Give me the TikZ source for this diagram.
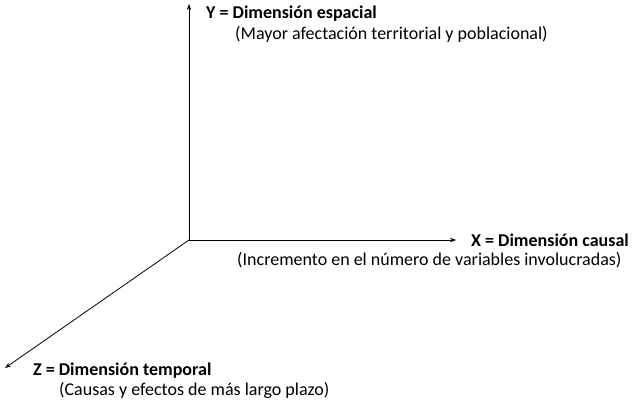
\documentclass[tikz,border=0pt]{standalone}
\usepackage{fontspec}
\setmainfont{Carlito}
\usepackage{tikz}
\usetikzlibrary{arrows.meta,positioning}

\tikzset{
	axis/.style={-{Stealth[length=6pt,width=4.5pt]}, line width=.8pt},
	title/.style={anchor=west, inner sep=0pt, font=\fontsize{18}{20}\selectfont\bfseries},
	note/.style={anchor=west, inner sep=0pt, font=\fontsize{18}{20}\selectfont}
}

\begin{document}
\begin{tikzpicture}[x=1pt,y=-1pt]
				\useasboundingbox (0,0) rectangle (633,406);
				% axes
				\coordinate (o) at (189,240);
				\coordinate (ytip) at (189,4);
				\coordinate (xtip) at (456,240);
				\coordinate (ztip) at (5,368);
				\draw[axis] (o) -- (ytip);
				\draw[axis] (o) -- (xtip);
				\draw[axis] (o) -- (ztip);
				% labels
				\node[title] (ylab) at (206,14) {Y = Dimensión espacial};
				\node[note] (ynote) at (235,34) {(Mayor afectación territorial y poblacional)};
				\node[title] (xlab) at (471,240) {X = Dimensión causal};
				\node[note] (xnote) at (237,260) {(Incremento en el número de variables involucradas)};
				\node[title] (zlab) at (33,371) {Z = Dimensión temporal};
				\node[note] (znote) at (59,390) {(Causas y efectos de más largo plazo)};
			\end{tikzpicture}
\end{document}
